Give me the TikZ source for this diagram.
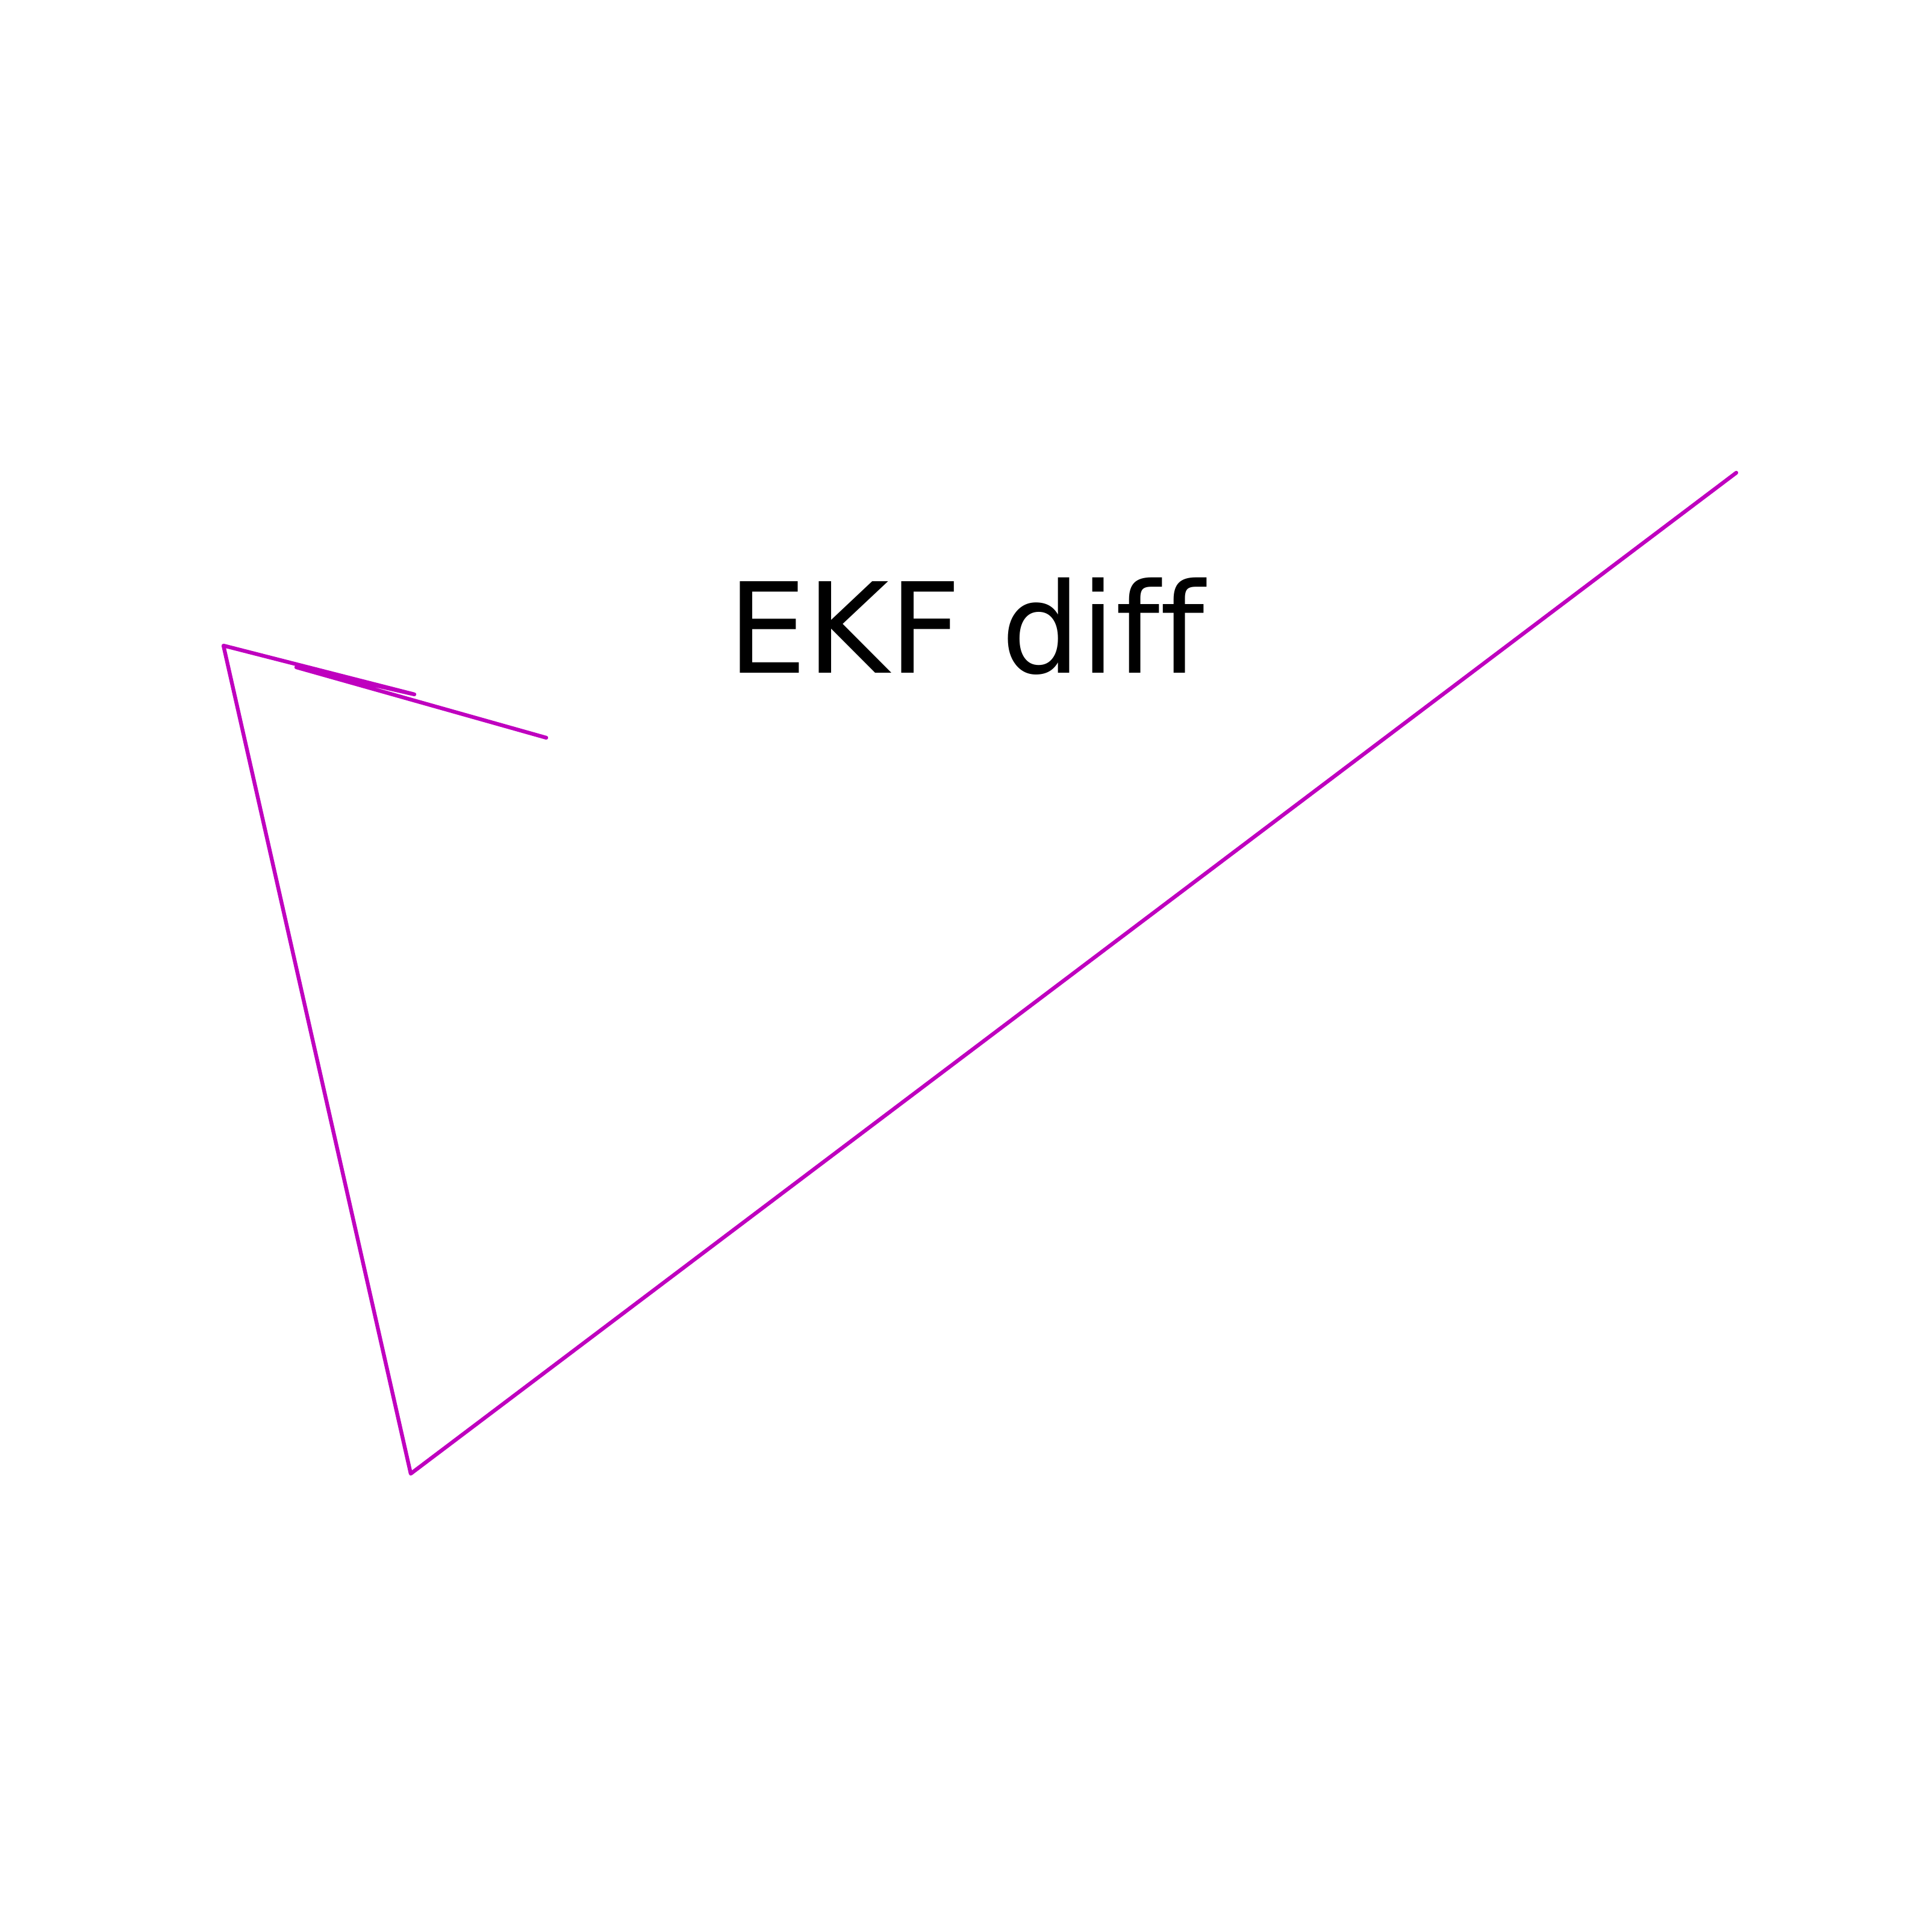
\documentclass[tikz,border=0pt]{standalone}
\usepackage{fontspec}
\setmainfont[Ligatures={NoCommon}]{DejaVu Sans}
\definecolor{traj}{rgb}{0.75,0,0.75}
\tikzset{trajline/.style={draw=traj, line width=1.8pt, line cap=round, line join=round},
  titletext/.style={inner sep=0pt, outer sep=0pt, anchor=base west, font=\fontsize{59.3}{71}\selectfont}}
\begin{document}
\begin{tikzpicture}
\useasboundingbox[fill=white] (0,0) rectangle (32.08,32.08);
\coordinate (p1) at (9.07,19.83);
\coordinate (p2) at (4.92,21.00);
\coordinate (p3) at (6.88,20.55);
\coordinate (p4) at (3.71,21.36);
\coordinate (p5) at (6.82,7.61);
\coordinate (p6) at (28.83,24.23);
\draw[trajline] (p1) -- (p2) -- (p3) -- (p4) -- (p5) -- (p6);
\node[titletext] (title) at (12.08,20.90) {EKF dif\kern0ptf};
\end{tikzpicture}
\end{document}
